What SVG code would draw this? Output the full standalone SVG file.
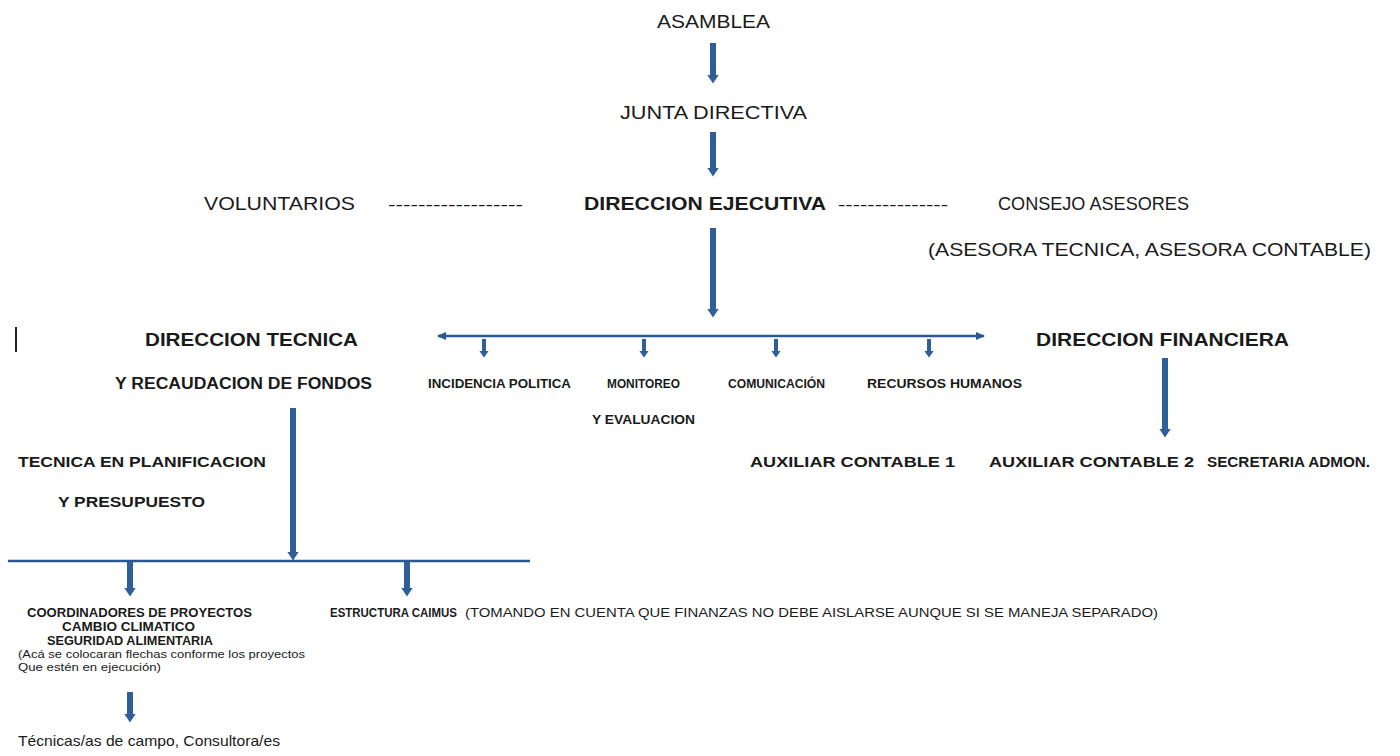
<svg xmlns="http://www.w3.org/2000/svg" width="1400" height="756" viewBox="0 0 1400 756">
<style>
text{font-family:"Liberation Sans",Arial,sans-serif;fill:#1a1a1a}
.r{font-weight:normal}
.b{font-weight:bold}
.sh{stroke:#2f5f98;fill:none}
.ln{stroke:#2b5890;stroke-width:2.5;fill:none}
</style>
<defs>
<marker id="ah" markerUnits="userSpaceOnUse" markerWidth="9" markerHeight="14" refX="0.5" refY="7" orient="auto" viewBox="0 0 9 14">
<path d="M0,1 L9,7 L0,13 Z" fill="#2f5f98"/>
</marker>
<marker id="ahs" markerUnits="userSpaceOnUse" markerWidth="7" markerHeight="11" refX="0.5" refY="5.5" orient="auto" viewBox="0 0 7 11">
<path d="M0,0.5 L7,5.5 L0,10.5 Z" fill="#2f5f98"/>
</marker>
<marker id="ahr" markerUnits="userSpaceOnUse" markerWidth="10" markerHeight="10" refX="8" refY="5" orient="auto-start-reverse" viewBox="0 0 10 10">
<path d="M0,1 L9,5 L0,9 Z" fill="#2b5890"/>
</marker>
</defs>
<g id="connectors">
<line class="sh" x1="713" y1="43" x2="713" y2="75" stroke-width="6" marker-end="url(#ah)"/>
<line class="sh" x1="713" y1="132" x2="713" y2="168" stroke-width="6" marker-end="url(#ah)"/>
<line class="sh" x1="713" y1="228" x2="713" y2="309" stroke-width="6" marker-end="url(#ah)"/>
<line class="ln" x1="438" y1="336" x2="984" y2="336" stroke-width="4" marker-start="url(#ahr)" marker-end="url(#ahr)"/>
<line class="sh" x1="484" y1="339" x2="484" y2="351" stroke-width="4" marker-end="url(#ahs)"/>
<line class="sh" x1="644" y1="339" x2="644" y2="351" stroke-width="4" marker-end="url(#ahs)"/>
<line class="sh" x1="776" y1="339" x2="776" y2="351" stroke-width="4" marker-end="url(#ahs)"/>
<line class="sh" x1="929" y1="339" x2="929" y2="351" stroke-width="4" marker-end="url(#ahs)"/>
<line class="sh" x1="1165" y1="358" x2="1165" y2="429" stroke-width="6" marker-end="url(#ah)"/>
<line class="sh" x1="293" y1="408" x2="293" y2="552" stroke-width="6" marker-end="url(#ah)"/>
<line class="ln" x1="8" y1="561" x2="530" y2="561"/>
<line class="sh" x1="130" y1="562" x2="130" y2="588" stroke-width="6" marker-end="url(#ah)"/>
<line class="sh" x1="407" y1="562" x2="407" y2="588" stroke-width="6" marker-end="url(#ah)"/>
<line class="sh" x1="130" y1="692" x2="130" y2="714" stroke-width="6" marker-end="url(#ah)"/>
<line x1="16" y1="327" x2="16" y2="352" stroke="#222" stroke-width="2"/>
</g>
<g id="asamblea"><text class="r" x="657" y="28" font-size="18" textLength="113" lengthAdjust="spacingAndGlyphs">ASAMBLEA</text></g>
<g id="junta"><text class="r" x="620" y="119" font-size="18" textLength="187" lengthAdjust="spacingAndGlyphs">JUNTA DIRECTIVA</text></g>
<g id="voluntarios"><text class="r" x="204" y="210" font-size="19" textLength="151" lengthAdjust="spacingAndGlyphs">VOLUNTARIOS</text>
<text class="r" x="388" y="210" font-size="16" textLength="135" lengthAdjust="spacingAndGlyphs">------------------</text></g>
<g id="direccion-ejecutiva"><text class="b" x="584" y="210" font-size="19" textLength="242" lengthAdjust="spacingAndGlyphs">DIRECCION EJECUTIVA</text>
<text class="r" x="838" y="210" font-size="16" textLength="110" lengthAdjust="spacingAndGlyphs">---------------</text></g>
<g id="consejo"><text class="r" x="998" y="210" font-size="19" textLength="191" lengthAdjust="spacingAndGlyphs">CONSEJO ASESORES</text>
<text class="r" x="928" y="256" font-size="19" textLength="443" lengthAdjust="spacingAndGlyphs">(ASESORA TECNICA, ASESORA CONTABLE)</text></g>
<g id="direccion-tecnica"><text class="b" x="145" y="346" font-size="18" textLength="213" lengthAdjust="spacingAndGlyphs">DIRECCION TECNICA</text>
<text class="b" x="115" y="389" font-size="16" textLength="257" lengthAdjust="spacingAndGlyphs">Y RECAUDACION DE FONDOS</text></g>
<g id="incidencia"><text class="b" x="428" y="388" font-size="13" textLength="143" lengthAdjust="spacingAndGlyphs">INCIDENCIA POLITICA</text></g>
<g id="monitoreo"><text class="b" x="607" y="388" font-size="13" textLength="73" lengthAdjust="spacingAndGlyphs">MONITOREO</text>
<text class="b" x="592" y="424" font-size="13" textLength="103" lengthAdjust="spacingAndGlyphs">Y EVALUACION</text></g>
<g id="comunicacion"><text class="b" x="728" y="388" font-size="13" textLength="97" lengthAdjust="spacingAndGlyphs">COMUNICACIÓN</text></g>
<g id="rrhh"><text class="b" x="867" y="388" font-size="13" textLength="155" lengthAdjust="spacingAndGlyphs">RECURSOS HUMANOS</text></g>
<g id="direccion-financiera"><text class="b" x="1036" y="346" font-size="18" textLength="253" lengthAdjust="spacingAndGlyphs">DIRECCION FINANCIERA</text></g>
<g id="auxiliar1"><text class="b" x="750" y="467" font-size="14" textLength="205" lengthAdjust="spacingAndGlyphs">AUXILIAR CONTABLE 1</text></g>
<g id="auxiliar2"><text class="b" x="989" y="467" font-size="14" textLength="205" lengthAdjust="spacingAndGlyphs">AUXILIAR CONTABLE 2</text></g>
<g id="secretaria"><text class="b" x="1207" y="467" font-size="14" textLength="163" lengthAdjust="spacingAndGlyphs">SECRETARIA ADMON.</text></g>
<g id="tecnica-planificacion"><text class="b" x="18" y="467" font-size="15" textLength="248" lengthAdjust="spacingAndGlyphs">TECNICA EN PLANIFICACION</text>
<text class="b" x="58" y="507" font-size="15" textLength="147" lengthAdjust="spacingAndGlyphs">Y PRESUPUESTO</text></g>
<g id="coordinadores">
<text class="b" x="27" y="617" font-size="12" textLength="225" lengthAdjust="spacingAndGlyphs">COORDINADORES DE PROYECTOS</text>
<text class="b" x="62" y="631" font-size="12" textLength="133" lengthAdjust="spacingAndGlyphs">CAMBIO CLIMATICO</text>
<text class="b" x="47" y="645" font-size="12" textLength="166" lengthAdjust="spacingAndGlyphs">SEGURIDAD ALIMENTARIA</text>
<text class="r" x="18" y="658" font-size="11" textLength="287" lengthAdjust="spacingAndGlyphs">(Acá se colocaran flechas conforme los proyectos</text>
<text class="r" x="18" y="671" font-size="11" textLength="143" lengthAdjust="spacingAndGlyphs">Que estén en ejecución)</text>
</g>
<g id="tecnicas-campo"><text class="r" x="18" y="746" font-size="15" textLength="262" lengthAdjust="spacingAndGlyphs">Técnicas/as de campo, Consultora/es</text></g>
<g id="caimus"><text class="b" x="330" y="617" font-size="12" textLength="127" lengthAdjust="spacingAndGlyphs">ESTRUCTURA CAIMUS</text>
<text class="r" x="465" y="617" font-size="12" textLength="693" lengthAdjust="spacingAndGlyphs">(TOMANDO EN CUENTA QUE FINANZAS NO DEBE AISLARSE AUNQUE SI SE MANEJA SEPARADO)</text></g>
</svg>
